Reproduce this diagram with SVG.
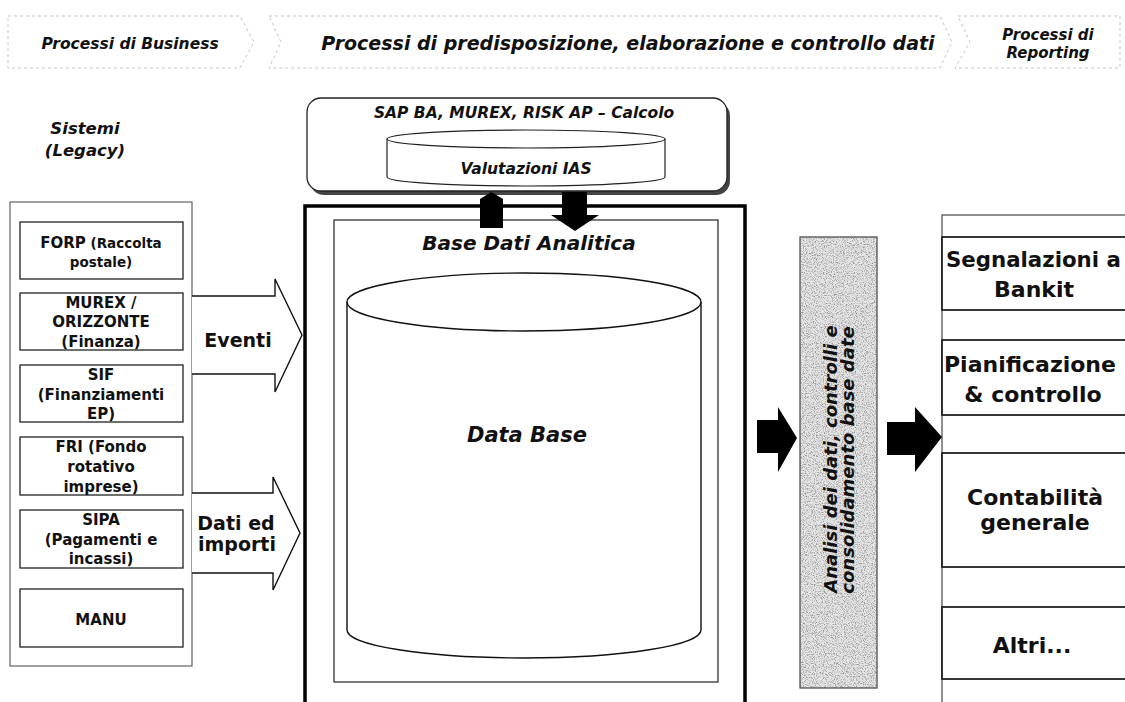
<svg xmlns="http://www.w3.org/2000/svg" width="1125" height="702" viewBox="0 0 1125 702">
<defs>
<style>
.hdr{fill:none;stroke:#c4c4c4;stroke-width:1;stroke-dasharray:3 3}
.hi{font-family:"DejaVu Sans",Verdana,sans-serif;font-weight:bold;font-style:italic;fill:#111}
.b{font-family:"DejaVu Sans",Verdana,sans-serif;font-weight:bold;fill:#111}
.box{fill:#fff;stroke:#222;stroke-width:1.3}
.obox{fill:#fff;stroke:#555;stroke-width:1.1}
.arw{fill:#fff;stroke:#111;stroke-width:1.4}
.blk{fill:#000}
.rbox{fill:#fff;stroke:#222;stroke-width:1.8}
</style>
<filter id="speck" x="0" y="0" width="1" height="1">
<feTurbulence type="fractalNoise" baseFrequency="0.9" numOctaves="2" seed="7"/>
<feColorMatrix type="matrix" values="0 0 0 0 0.3  0 0 0 0 0.3  0 0 0 0 0.3  3.2 0 0 0 -1.45"/>
<feComposite in2="SourceGraphic" operator="in"/>
</filter>
</defs>

<g id="header">
<polygon class="hdr" points="8,16 240,16 254,42 240,68 8,68"/>
<polygon class="hdr" points="269,16 940,16 952,42 940,68 269,68 281,42"/>
<polygon class="hdr" points="958,16 1120,16 1120,68 955,68 970,42"/>
<text class="hi" x="130" y="49" font-size="15.5" text-anchor="middle">Processi di Business</text>
<text class="hi" x="628" y="50" font-size="19" text-anchor="middle">Processi di predisposizione, elaborazione e controllo dati</text>
<text class="hi" x="1048" y="40" font-size="15" text-anchor="middle">Processi di</text>
<text class="hi" x="1048" y="58" font-size="15" text-anchor="middle">Reporting</text>
</g>

<g id="legacy-title">
<text class="hi" x="85" y="134" font-size="16.5" text-anchor="middle">Sistemi</text>
<text class="hi" x="85" y="156" font-size="16.5" text-anchor="middle">(Legacy)</text>
</g>

<g id="legacy">
<rect class="obox" x="10" y="202" width="182" height="464"/>
<g id="forp"><rect class="box" x="20" y="222" width="163" height="57"/>
<text class="b" x="101" y="248" text-anchor="middle"><tspan font-size="15">FORP</tspan><tspan font-size="13.5"> (Raccolta</tspan></text>
<text class="b" x="101" y="267" font-size="13.5" text-anchor="middle">postale)</text></g>
<g id="murex"><rect class="box" x="20" y="293" width="163" height="57"/>
<text class="b" x="101" y="308" font-size="15" text-anchor="middle">MUREX /</text>
<text class="b" x="101" y="327" font-size="15" text-anchor="middle">ORIZZONTE</text>
<text class="b" x="101" y="347" font-size="15" text-anchor="middle">(Finanza)</text></g>
<g id="sif"><rect class="box" x="20" y="365" width="163" height="57"/>
<text class="b" x="101" y="380" font-size="15" text-anchor="middle">SIF</text>
<text class="b" x="101" y="400" font-size="15" text-anchor="middle">(Finanziamenti</text>
<text class="b" x="101" y="419" font-size="15" text-anchor="middle">EP)</text></g>
<g id="fri"><rect class="box" x="20" y="437" width="163" height="58"/>
<text class="b" x="101" y="452" font-size="15" text-anchor="middle">FRI (Fondo</text>
<text class="b" x="101" y="472" font-size="15" text-anchor="middle">rotativo</text>
<text class="b" x="101" y="492" font-size="15" text-anchor="middle">imprese)</text></g>
<g id="sipa"><rect class="box" x="20" y="510" width="163" height="58"/>
<text class="b" x="101" y="525" font-size="15" text-anchor="middle">SIPA</text>
<text class="b" x="101" y="545" font-size="15" text-anchor="middle">(Pagamenti e</text>
<text class="b" x="101" y="564" font-size="15" text-anchor="middle">incassi)</text></g>
<g id="manu"><rect class="box" x="20" y="589" width="163" height="58"/>
<text class="b" x="101" y="625" font-size="15" text-anchor="middle">MANU</text></g>
</g>

<g id="sap">
<rect x="310" y="102" width="420" height="93" rx="14" fill="#444"/>
<rect class="box" x="307" y="98" width="420" height="93" rx="14"/>
<text class="hi" x="524" y="118" font-size="15.5" text-anchor="middle">SAP BA, MUREX, RISK AP – Calcolo</text>
<path d="M387,139 V177 A139,9 0 0 0 665,177 V139" fill="#fff" stroke="#222" stroke-width="1.2"/>
<ellipse cx="526" cy="139" rx="139" ry="9" fill="#fff" stroke="#222" stroke-width="1.2"/>
<text class="hi" x="526" y="174" font-size="15.5" text-anchor="middle">Valutazioni IAS</text>
</g>

<g id="base-dati">
<rect x="305" y="206" width="440" height="510" fill="#fff" stroke="#000" stroke-width="3.5"/>
<rect x="334" y="220" width="384" height="462" fill="none" stroke="#222" stroke-width="1.2"/>
<text class="hi" x="529" y="250" font-size="20" text-anchor="middle">Base Dati Analitica</text>
<path d="M347,302 V630 A177,28 0 0 0 701,630 V302" fill="#fff" stroke="#111" stroke-width="1.4"/>
<ellipse cx="524" cy="302" rx="177" ry="29" fill="#fff" stroke="#111" stroke-width="1.4"/>
<text class="hi" x="527" y="442" font-size="21" text-anchor="middle">Data Base</text>
</g>

<g id="analisi">
<rect x="800" y="237" width="77" height="451" fill="#e6e6e6"/>
<rect x="800" y="237" width="77" height="451" fill="#fff" filter="url(#speck)"/>
<rect x="800" y="237" width="77" height="451" fill="none" stroke="#444" stroke-width="1.2"/>
<text class="hi" font-size="18" text-anchor="middle" transform="translate(837,459) rotate(-90)">Analisi dei dati, controlli e</text>
<text class="hi" font-size="18" text-anchor="middle" transform="translate(854,460) rotate(-90)">consolidamento base date</text>
</g>

<g id="reporting">
<rect x="942" y="215" width="200" height="500" fill="#fff" stroke="#444" stroke-width="1.2"/>
<g id="segnalazioni"><rect class="rbox" x="942" y="237" width="200" height="73"/>
<text class="b" x="946" y="267" font-size="21.3">Segnalazioni a</text>
<text class="b" x="1034" y="297" font-size="22" text-anchor="middle">Bankit</text></g>
<g id="pianificazione"><rect class="rbox" x="942" y="340" width="200" height="75"/>
<text class="b" x="944" y="372" font-size="22">Pianificazione</text>
<text class="b" x="1033" y="402" font-size="22" text-anchor="middle">&amp; controllo</text></g>
<g id="contabilita"><rect class="rbox" x="942" y="453" width="200" height="114"/>
<text class="b" x="1035" y="505" font-size="22" text-anchor="middle">Contabilità</text>
<text class="b" x="1035" y="530" font-size="22" text-anchor="middle">generale</text></g>
<g id="altri"><rect class="rbox" x="942" y="607" width="200" height="72"/>
<text class="b" x="1032" y="653" font-size="22" text-anchor="middle">Altri...</text></g>
</g>

<g id="connectors">
<path class="arw" d="M192,296 H275 V279 L302,335 L275,392 V374 H192"/>
<text class="b" x="238" y="347" font-size="19" text-anchor="middle">Eventi</text>
<path class="arw" d="M192,493 H273 V477 L300,533 L273,590 V573 H192"/>
<text class="b" x="236" y="530" font-size="19" text-anchor="middle">Dati ed</text>
<text class="b" x="237" y="551" font-size="19" text-anchor="middle">importi</text>
<polygon class="blk" points="480,228 480,199 491.5,192 503,199 503,228"/>
<polygon class="blk" points="562,192 587,192 587,215 599,215 575,231 551,215 562,215"/>
<polygon class="blk" points="757,420 778,420 778,407 797,438 778,472 778,453 757,453"/>
<polygon class="blk" points="887,422 915,422 915,407 942,437 915,472 915,455 887,455"/>
</g>
</svg>
